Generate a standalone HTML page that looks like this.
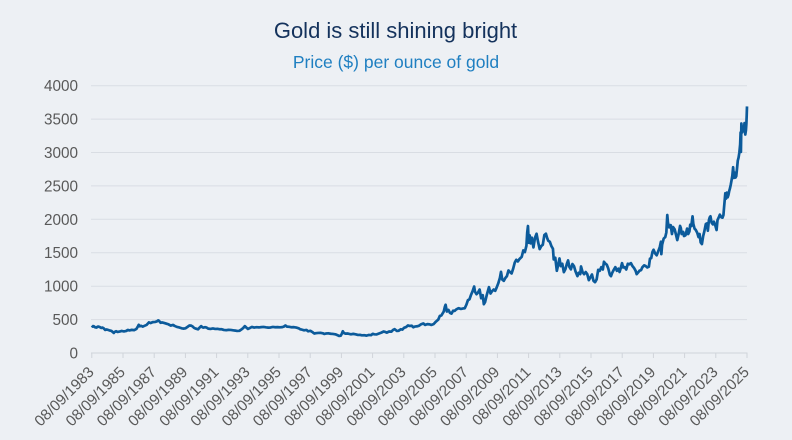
<!DOCTYPE html>
<html>
<head>
<meta charset="utf-8">
<style>
  html, body { margin:0; padding:0; background:#edf0f4; }
  body { width:792px; height:440px; overflow:hidden; }
  svg { display:block; }
  .ttl { font-family:"Liberation Sans", sans-serif; }
  .ax { font-family:"Liberation Sans", sans-serif; font-size:15.3px; fill:#595959; }
</style>
</head>
<body>
<svg width="792" height="440" viewBox="0 0 792 440" xmlns="http://www.w3.org/2000/svg">
  <rect width="792" height="440" fill="#edf0f4"/>
  <text class="ttl" x="395.5" y="38" text-anchor="middle" font-size="22" fill="#14325c">Gold is still shining bright</text>
  <text class="ttl" x="396" y="68" text-anchor="middle" font-size="17.5" fill="#1f7fc1">Price ($) per ounce of gold</text>

  <!-- gridlines -->
  <g stroke="#d9dde3" stroke-width="1">
    <line x1="91" y1="85.7" x2="747" y2="85.7"/>
    <line x1="91" y1="119.1" x2="747" y2="119.1"/>
    <line x1="91" y1="152.5" x2="747" y2="152.5"/>
    <line x1="91" y1="185.9" x2="747" y2="185.9"/>
    <line x1="91" y1="219.3" x2="747" y2="219.3"/>
    <line x1="91" y1="252.7" x2="747" y2="252.7"/>
    <line x1="91" y1="286.2" x2="747" y2="286.2"/>
    <line x1="91" y1="319.6" x2="747" y2="319.6"/>
  </g>
  <!-- axis -->
  <g stroke="#d0d4da" stroke-width="1">
    <line x1="91" y1="353" x2="747.5" y2="353"/>
    <line x1="91.8" y1="353" x2="91.8" y2="358"/>
    <line x1="123" y1="353" x2="123" y2="358"/>
    <line x1="154.2" y1="353" x2="154.2" y2="358"/>
    <line x1="185.4" y1="353" x2="185.4" y2="358"/>
    <line x1="216.6" y1="353" x2="216.6" y2="358"/>
    <line x1="247.8" y1="353" x2="247.8" y2="358"/>
    <line x1="279" y1="353" x2="279" y2="358"/>
    <line x1="310.2" y1="353" x2="310.2" y2="358"/>
    <line x1="341.4" y1="353" x2="341.4" y2="358"/>
    <line x1="372.6" y1="353" x2="372.6" y2="358"/>
    <line x1="403.8" y1="353" x2="403.8" y2="358"/>
    <line x1="435" y1="353" x2="435" y2="358"/>
    <line x1="466.2" y1="353" x2="466.2" y2="358"/>
    <line x1="497.4" y1="353" x2="497.4" y2="358"/>
    <line x1="528.6" y1="353" x2="528.6" y2="358"/>
    <line x1="559.8" y1="353" x2="559.8" y2="358"/>
    <line x1="591" y1="353" x2="591" y2="358"/>
    <line x1="622.2" y1="353" x2="622.2" y2="358"/>
    <line x1="653.4" y1="353" x2="653.4" y2="358"/>
    <line x1="684.6" y1="353" x2="684.6" y2="358"/>
    <line x1="715.8" y1="353" x2="715.8" y2="358"/>
    <line x1="747" y1="353" x2="747" y2="358"/>
  </g>

  <!-- y labels -->
  <g class="ax" text-anchor="end">
    <text x="78" y="91.2">4000</text>
    <text x="78" y="124.6">3500</text>
    <text x="78" y="158">3000</text>
    <text x="78" y="191.4">2500</text>
    <text x="78" y="224.8">2000</text>
    <text x="78" y="258.2">1500</text>
    <text x="78" y="291.7">1000</text>
    <text x="78" y="325.1">500</text>
    <text x="78" y="358.5">0</text>
  </g>

  <!-- x labels -->
  <g class="ax" text-anchor="end">
    <text transform="translate(94.8,373) rotate(-45)">08/09/1983</text>
    <text transform="translate(126,373) rotate(-45)">08/09/1985</text>
    <text transform="translate(157.2,373) rotate(-45)">08/09/1987</text>
    <text transform="translate(188.4,373) rotate(-45)">08/09/1989</text>
    <text transform="translate(219.6,373) rotate(-45)">08/09/1991</text>
    <text transform="translate(250.8,373) rotate(-45)">08/09/1993</text>
    <text transform="translate(282,373) rotate(-45)">08/09/1995</text>
    <text transform="translate(313.2,373) rotate(-45)">08/09/1997</text>
    <text transform="translate(344.4,373) rotate(-45)">08/09/1999</text>
    <text transform="translate(375.6,373) rotate(-45)">08/09/2001</text>
    <text transform="translate(406.8,373) rotate(-45)">08/09/2003</text>
    <text transform="translate(438,373) rotate(-45)">08/09/2005</text>
    <text transform="translate(469.2,373) rotate(-45)">08/09/2007</text>
    <text transform="translate(500.4,373) rotate(-45)">08/09/2009</text>
    <text transform="translate(531.6,373) rotate(-45)">08/09/2011</text>
    <text transform="translate(562.8,373) rotate(-45)">08/09/2013</text>
    <text transform="translate(594,373) rotate(-45)">08/09/2015</text>
    <text transform="translate(625.2,373) rotate(-45)">08/09/2017</text>
    <text transform="translate(656.4,373) rotate(-45)">08/09/2019</text>
    <text transform="translate(687.6,373) rotate(-45)">08/09/2021</text>
    <text transform="translate(718.8,373) rotate(-45)">08/09/2023</text>
    <text transform="translate(750,373) rotate(-45)">08/09/2025</text>
  </g>

  <!-- price series: x = 91.8 + (t-1983.69)*15.6 ; y = 353 - v*0.066825 -->
  <g transform="matrix(15.6 0 0 -0.066825 -30853.764 353)">
    <polyline fill="none" stroke="#0c5b9b" stroke-width="2.7" stroke-linejoin="round" vector-effect="non-scaling-stroke" points="
1983.69,410 1983.75,395 1983.8,402 1983.9,385 1984.0,380 1984.05,392 1984.1,395 1984.2,388 1984.3,375 1984.38,380 1984.45,370 1984.55,345 1984.65,352 1984.8,340 1984.95,330 1985.05,310 1985.1,300 1985.15,315 1985.25,325 1985.35,315 1985.5,322 1985.6,330 1985.75,323 1985.9,330 1986.0,345 1986.1,338 1986.25,346 1986.4,342 1986.55,360 1986.65,400 1986.7,422 1986.75,400 1986.85,407 1986.95,395 1987.05,405 1987.2,420 1987.3,445 1987.35,458 1987.45,448 1987.6,462 1987.75,465 1987.85,472 1987.95,488 1988.0,480 1988.1,452 1988.2,457 1988.35,448 1988.5,437 1988.6,430 1988.75,410 1988.9,420 1989.0,405 1989.15,390 1989.3,382 1989.45,370 1989.55,365 1989.7,370 1989.85,395 1989.95,412 1990.05,410 1990.15,398 1990.25,375 1990.35,365 1990.5,355 1990.6,380 1990.7,402 1990.78,385 1990.85,380 1990.95,386 1991.05,380 1991.15,365 1991.3,360 1991.45,367 1991.6,360 1991.75,362 1991.9,355 1992.0,356 1992.15,345 1992.3,341 1992.45,346 1992.6,345 1992.75,340 1992.9,335 1993.0,330 1993.15,332 1993.3,355 1993.4,375 1993.5,402 1993.6,380 1993.7,360 1993.8,372 1993.95,390 1994.1,380 1994.25,386 1994.4,383 1994.55,387 1994.7,390 1994.85,384 1995.0,380 1995.15,382 1995.3,390 1995.45,385 1995.6,387 1995.75,384 1995.9,387 1996.0,395 1996.1,412 1996.2,395 1996.35,392 1996.5,385 1996.65,387 1996.8,380 1996.95,370 1997.05,355 1997.15,350 1997.3,340 1997.45,345 1997.55,325 1997.7,332 1997.85,310 1997.95,292 1998.05,296 1998.2,300 1998.35,302 1998.5,295 1998.6,285 1998.7,292 1998.85,295 1999.0,288 1999.15,285 1999.3,280 1999.45,265 1999.55,255 1999.65,260 1999.72,290 1999.78,325 1999.85,300 1999.95,290 2000.1,292 2000.2,285 2000.3,280 2000.45,286 2000.6,280 2000.75,270 2000.9,271 2001.0,265 2001.15,266 2001.3,260 2001.45,270 2001.6,268 2001.7,287 2001.8,280 2001.95,278 2002.1,292 2002.25,305 2002.4,322 2002.5,315 2002.6,305 2002.75,322 2002.9,320 2003.0,345 2003.1,357 2003.25,330 2003.35,332 2003.5,355 2003.6,350 2003.7,376 2003.85,390 2003.95,412 2004.05,405 2004.2,408 2004.3,385 2004.4,396 2004.55,400 2004.65,406 2004.8,430 2004.95,442 2005.05,420 2005.2,432 2005.35,428 2005.45,420 2005.6,432 2005.75,470 2005.9,500 2006.0,555 2006.1,562 2006.25,620 2006.32,690 2006.37,722 2006.45,620 2006.55,645 2006.65,600 2006.75,590 2006.85,632 2006.95,630 2007.05,652 2007.2,670 2007.35,660 2007.5,667 2007.6,670 2007.7,722 2007.8,790 2007.9,803 2008.0,870 2008.1,925 2008.2,995 2008.25,920 2008.35,880 2008.45,905 2008.55,950 2008.65,820 2008.75,865 2008.82,730 2008.9,762 2009.0,860 2009.1,945 2009.15,985 2009.25,890 2009.35,925 2009.45,950 2009.55,930 2009.65,985 2009.75,1045 2009.85,1125 2009.92,1215 2010.0,1100 2010.1,1080 2010.2,1122 2010.3,1150 2010.4,1235 2010.5,1210 2010.6,1190 2010.7,1262 2010.8,1352 2010.9,1395 2011.0,1370 2011.1,1405 2011.25,1440 2011.35,1535 2011.45,1510 2011.55,1605 2011.6,1800 2011.65,1900 2011.7,1650 2011.76,1760 2011.82,1640 2011.9,1725 2012.0,1580 2012.1,1725 2012.2,1785 2012.3,1660 2012.4,1555 2012.5,1600 2012.6,1620 2012.7,1765 2012.8,1785 2012.88,1720 2012.95,1680 2013.05,1665 2013.15,1600 2013.25,1560 2013.3,1400 2013.4,1425 2013.5,1230 2013.6,1335 2013.67,1415 2013.75,1300 2013.85,1335 2013.95,1210 2014.05,1255 2014.15,1340 2014.22,1385 2014.3,1290 2014.4,1252 2014.5,1332 2014.6,1300 2014.7,1220 2014.82,1150 2014.9,1200 2015.0,1180 2015.05,1295 2015.15,1210 2015.25,1180 2015.35,1212 2015.45,1180 2015.55,1090 2015.65,1132 2015.75,1175 2015.85,1080 2015.95,1060 2016.05,1100 2016.15,1245 2016.25,1230 2016.35,1285 2016.45,1250 2016.52,1365 2016.6,1340 2016.7,1322 2016.8,1262 2016.9,1170 2016.97,1150 2017.05,1200 2017.15,1245 2017.25,1285 2017.35,1230 2017.45,1262 2017.52,1212 2017.6,1272 2017.68,1345 2017.75,1280 2017.85,1285 2017.95,1250 2018.05,1335 2018.15,1328 2018.25,1345 2018.35,1300 2018.45,1272 2018.55,1230 2018.62,1180 2018.7,1202 2018.8,1232 2018.9,1240 2018.98,1282 2019.1,1312 2019.2,1300 2019.3,1280 2019.4,1292 2019.47,1412 2019.55,1420 2019.63,1512 2019.7,1545 2019.8,1490 2019.9,1462 2020.0,1522 2020.1,1585 2020.17,1665 2020.2,1480 2020.25,1622 2020.35,1712 2020.45,1735 2020.52,1805 2020.58,2065 2020.62,1955 2020.7,1880 2020.8,1912 2020.88,1780 2020.95,1885 2021.05,1852 2021.15,1760 2021.22,1690 2021.3,1772 2021.4,1902 2021.45,1870 2021.5,1780 2021.6,1812 2021.65,1750 2021.75,1762 2021.85,1862 2021.92,1780 2022.0,1820 2022.05,1920 2022.12,1900 2022.2,2045 2022.25,1930 2022.33,1860 2022.4,1845 2022.5,1800 2022.58,1735 2022.65,1780 2022.72,1655 2022.8,1630 2022.88,1750 2022.95,1815 2023.05,1930 2023.12,1940 2023.18,1830 2023.25,1990 2023.3,2030 2023.35,2045 2023.42,1950 2023.5,1925 2023.57,1965 2023.65,1915 2023.74,1840 2023.8,1990 2023.9,2040 2023.95,2070 2024.05,2030 2024.12,2025 2024.18,2065 2024.22,2180 2024.28,2340 2024.3,2390 2024.35,2310 2024.4,2400 2024.45,2330 2024.5,2365 2024.55,2425 2024.6,2465 2024.65,2520 2024.7,2585 2024.75,2655 2024.8,2780 2024.85,2620 2024.9,2700 2024.95,2625 2025.0,2645 2025.05,2760 2025.1,2880 2025.15,2925 2025.2,3000 2025.25,3120 2025.28,3300 2025.3,3010 2025.33,3435 2025.38,3300 2025.43,3385 2025.48,3320 2025.53,3440 2025.58,3270 2025.62,3330 2025.65,3430 2025.67,3550 2025.69,3690"/>
  </g>
</svg>
</body>
</html>
